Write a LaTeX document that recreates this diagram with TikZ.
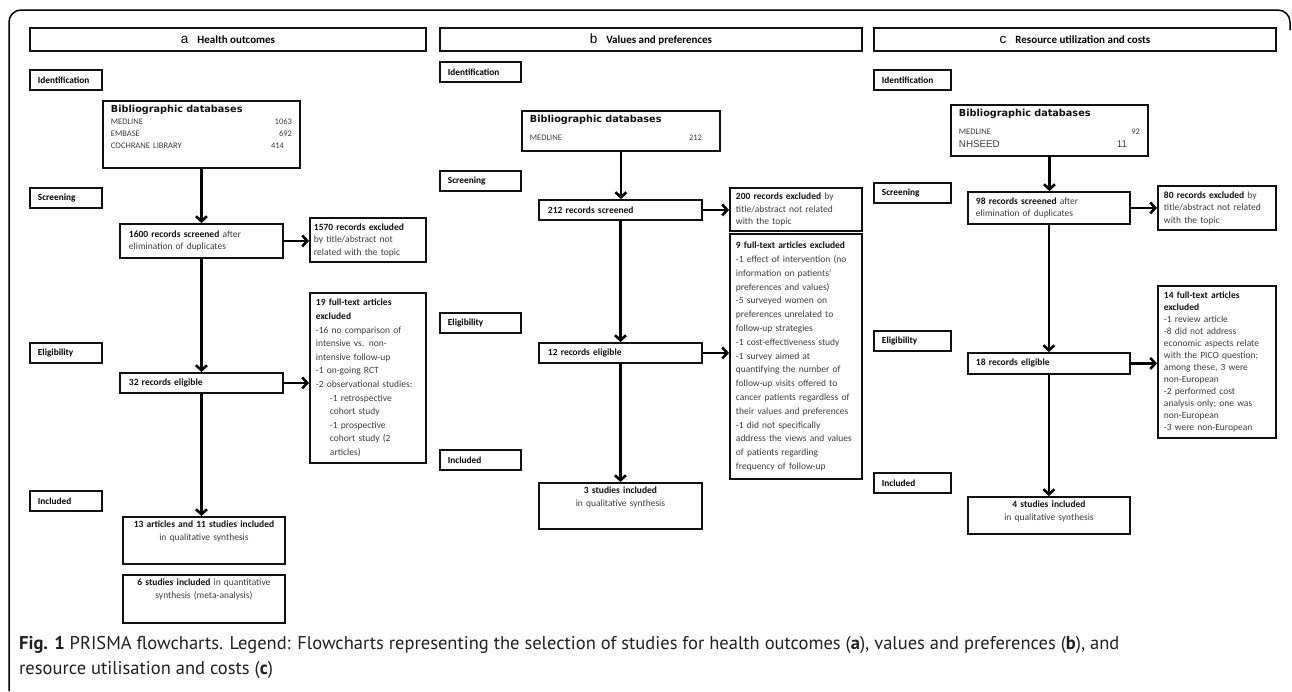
\documentclass[tikz,border=0pt]{standalone}
\usepackage{fontspec}
\usepackage{tikz}
\usetikzlibrary{arrows.meta}
\setmainfont{Carlito}
\newfontfamily\verd{DejaVu Sans}
\newfontfamily\arialf{Liberation Sans}
\newfontfamily\capfont{PT Sans}
\definecolor{PrismaInk}{HTML}{111111}
\definecolor{PrismaGrey}{HTML}{3C3C3C}
\definecolor{CapInk}{HTML}{231F20}
\newcommand{\hd}[1]{\textbf{\textcolor{PrismaInk}{#1}}}
\newcommand{\dbhead}{{\verd\bfseries\fontsize{9.7}{12}\selectfont\color{PrismaInk}Bibliographic databases}}
\newcommand{\panel}[2]{{\arialf\fontsize{13.5}{14}\selectfont #1}\hspace{9pt}\textbf{#2}}

\begin{document}
\begin{tikzpicture}[x=1pt,y=-1pt,
  box/.style={draw=PrismaInk,line width=1.9pt,anchor=north west,inner xsep=6pt,inner ysep=4pt,align=left,text=PrismaGrey,font=\fontsize{9.5}{12.5}\selectfont},
  exbox/.style={box,font=\fontsize{9.5}{13.6}\selectfont},
  midbox/.style={box,align=center},
  stage/.style={draw=PrismaInk,line width=1.9pt,anchor=north west,minimum height=20pt,inner xsep=8pt,inner ysep=0pt,text width=#1,font=\bfseries\fontsize{9.3}{11}\selectfont},
  titlebox/.style={draw=PrismaInk,line width=1.9pt,anchor=north west,minimum height=23pt,inner sep=0pt,font=\fontsize{11}{12}\selectfont},
  flow/.style={line width=2.6pt,-{Straight Barb[length=5pt,width=11pt]}}]
  \useasboundingbox (0,0) rectangle (1292,691);
  \draw[line width=1.5pt,rounded corners=12pt] (9,691) -- (9,10) -- (1290,10) -- (1290,30);

  \foreach \n/\x/\y/\w/\t in {idA/29/69/56/Identification,scA/29/187/56/Screening,elA/29/342/56/Eligibility,inA/29/490/56/Included,
    idB/439/61/65/Identification,scB/439/170/65/Screening,elB/439/312/65/Eligibility,inB/439/449/65/Included,
    idC/873/69/61/Identification,scC/873/182/61/Screening,elC/873/330/61/Eligibility,inC/873/472/61/Included}
    \node[stage=\w pt] (\n) at (\x,\y) {\t};

  % a
  \node[titlebox,minimum width=396pt] (headA) at (29,27) {\panel{a}{Health outcomes}};
  \node[box,inner xsep=8pt,text width=181pt,text depth=51.6pt] (dbA) at (102,100) {\dbhead\\
    \fontsize{8.5}{12}\selectfont MEDLINE\hfill 1063\hspace*{5pt}\\ EMBASE\hfill 692\hspace*{8pt}\\ COCHRANE LIBRARY\hfill 414\hspace*{8pt}};
  \node[box,inner xsep=9pt,text width=145pt,minimum height=34pt] (scrA) at (119,223) {\hd{1600 records screened} after\\ elimination of duplicates};
  \node[box,inner xsep=4pt,text width=108pt,minimum height=44pt] (exA1) at (309,217) {\hd{1570 records excluded}\\ by title/abstract not\\ related with the topic};
  \node[exbox,text width=104pt,minimum height=170pt] (exA2) at (309,292) {\hd{19 full-text articles}\\ \hd{excluded}\\ -16 no comparison of\\ intensive vs. non-\\ intensive follow-up\\ -1 on-going RCT\\ -2 observational studies:\\
    \hspace*{14pt}-1 retrospective\\ \hspace*{14pt}cohort study\\ \hspace*{14pt}-1 prospective\\ \hspace*{14pt}cohort study (2\\ \hspace*{14pt}articles)};
  \node[box,inner xsep=9pt,text width=145pt,minimum height=20pt] (eliA) at (119,372) {\hd{32 records eligible}};
  \node[midbox,text width=150pt,text depth=32.2pt] (incA) at (122,516) {\hd{13 articles and 11 studies included}\\ in qualitative synthesis};
  \node[midbox,text width=150pt,text depth=33.2pt] (metA) at (122,574) {\hd{6 studies included} in quantitative\\ synthesis (meta-analysis)};
  \draw[flow] (dbA.south) -- (dbA.south |- scrA.north);
  \draw[flow] (scrA.east) -- (scrA.east -| exA1.west);
  \draw[flow] (scrA.south) -- (scrA.south |- eliA.north);
  \draw[flow] (eliA.east) -- (eliA.east -| exA2.west);
  \draw[flow] (eliA.south) -- (eliA.south |- incA.north);

  % b
  \node[titlebox,minimum width=422pt] (headB) at (439,27) {\panel{b}{Values and preferences}};
  \node[box,inner xsep=8pt,text width=182pt,text depth=24.6pt] (dbB) at (521,110) {\dbhead\\[6pt]
    \fontsize{8.5}{12}\selectfont MEDLINE\hfill 212\hspace*{10pt}};
  \node[box,inner xsep=9pt,text width=145pt,minimum height=20pt] (scrB) at (538,199) {\hd{212 records screened}};
  \node[box,text width=120pt,minimum height=43pt] (exB1) at (729,187) {\hd{200 records excluded} by\\ title/abstract not related\\ with the topic};
  \node[exbox,text width=120pt,minimum height=245pt,font=\fontsize{9.5}{13.8}\selectfont] (exB2) at (729,233) {\hd{9 full-text articles excluded}\\ -1 effect of intervention (no\\ information on patients'\\ preferences and values)\\ -5 surveyed women on\\ preferences unrelated to\\ follow-up strategies\\ -1 cost-effectiveness study\\ -1 survey aimed at\\ quantifying the number of\\ follow-up visits offered to\\ cancer patients regardless of\\ their values and preferences\\ -1 did not specifically\\ address the views and values\\ of patients regarding\\ frequency of follow-up};
  \node[box,inner xsep=9pt,text width=145pt,minimum height=20pt] (eliB) at (538,342) {\hd{12 records eligible}};
  \node[midbox,text width=151pt,text depth=31.2pt] (incB) at (538,482) {\hd{3 studies included}\\ in qualitative synthesis};
  \draw[flow] (dbB.south) -- (dbB.south |- scrB.north);
  \draw[flow] (scrB.east) -- (scrB.east -| exB1.west);
  \draw[flow] (scrB.south) -- (scrB.south |- eliB.north);
  \draw[flow] (eliB.east) -- (eliB.east -| exB2.west);
  \draw[flow] (eliB.south) -- (eliB.south |- incB.north);

  % c
  \node[titlebox,minimum width=402pt] (headC) at (873,27) {\panel{c}{Resource utilization and costs}};
  \node[box,inner xsep=8pt,text width=181pt,text depth=35.6pt] (dbC) at (950,104) {\dbhead\\[6pt]
    \fontsize{8.5}{12.5}\selectfont MEDLINE\hfill 92\hspace*{15pt}\\ {\arialf\fontsize{9.8}{12}\selectfont NHSEED\hfill 11\hspace*{13pt}}};
  \node[box,inner xsep=8pt,text width=146pt,minimum height=32pt] (scrC) at (967,191) {\hd{98 records screened} after\\ elimination of duplicates};
  \node[box,text width=106pt,minimum height=44pt] (exC1) at (1157,185) {\hd{80 records excluded} by\\ title/abstract not related\\ with the topic};
  \node[box,text width=106pt,minimum height=152pt,font=\fontsize{9.5}{12}\selectfont] (exC2) at (1157,285) {\hd{14 full-text articles}\\ \hd{excluded}\\ -1 review article\\ -8 did not address\\ economic aspects relate\\ with the PICO question;\\ among these, 3 were\\ non-European\\ -2 performed cost\\ analysis only; one was\\ non-European\\ -3 were non-European};
  \node[box,inner xsep=8pt,text width=146pt,minimum height=21pt] (eliC) at (967,352) {\hd{18 records eligible}};
  \node[midbox,text width=150pt,text depth=22.2pt] (incC) at (967,496) {\hd{4 studies included}\\ in qualitative synthesis};
  \draw[flow] (dbC.south) -- (dbC.south |- scrC.north);
  \draw[flow] (scrC.east) -- (scrC.east -| exC1.west);
  \draw[flow] (scrC.south) -- (scrC.south |- eliC.north);
  \draw[flow] (eliC.east) -- (eliC.east -| exC2.west);
  \draw[flow] (eliC.south) -- (eliC.south |- incC.north);

  \node[anchor=north west,inner sep=0pt,align=left,text=CapInk,font=\capfont\fontsize{18.5}{25}\selectfont] (cap) at (19,636)
    {\textbf{Fig. 1} PRISMA flowcharts. Legend: Flowcharts representing the selection of studies for health outcomes (\textbf{a}), values and preferences (\textbf{b}), and\\ resource utilisation and costs (\textbf{c})};
\end{tikzpicture}
\end{document}
